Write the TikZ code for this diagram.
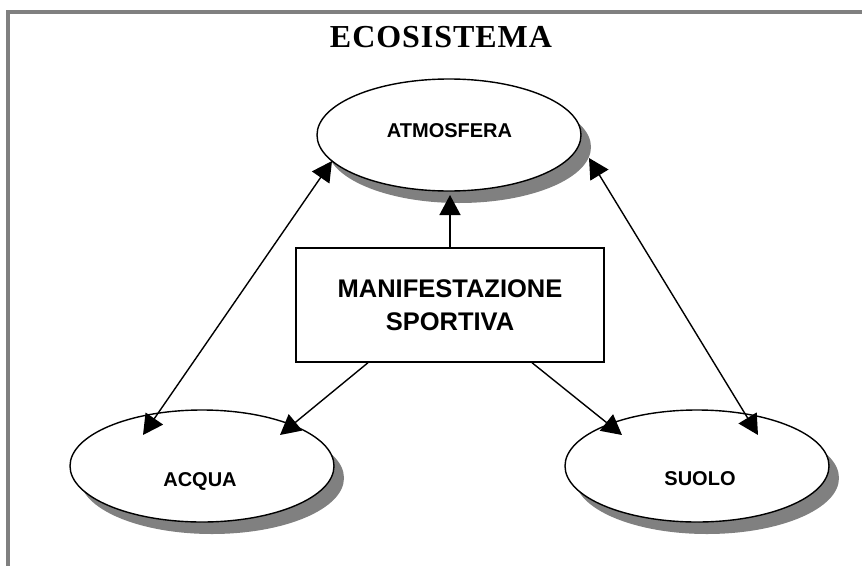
\documentclass[tikz,border=0pt]{standalone}
\usepackage{fontspec}
\setmainfont{Liberation Serif}
\newfontfamily\titlefont{Liberation Serif}[LetterSpace=3,BoldFont={* Bold}]
\newfontfamily\arialb{Liberation Sans}[BoldFont={* Bold}]
\usetikzlibrary{arrows.meta,shadows,shapes.geometric}
\definecolor{framegray}{RGB}{128,128,128}
\definecolor{shadowgray}{RGB}{128,128,128}
\tikzset{
  ell/.style={ellipse, draw=black, line width=1.4pt, fill=white, inner sep=0pt,
    minimum width=264pt, minimum height=112pt,
    drop shadow={shadow xshift=10pt, shadow yshift=-12pt, fill=shadowgray, opacity=1}},
  lab/.style={font=\arialb\bfseries\fontsize{20}{24}\selectfont, anchor=base, inner sep=0pt},
  boxnode/.style={draw=black, line width=1.4pt, fill=white, minimum width=308pt, minimum height=114pt,
    inner sep=0pt, align=center, font=\arialb\bfseries\fontsize{25.5}{33}\selectfont},
  arr/.style={line width=1.4pt, -{Triangle[length=20pt,width=21pt]}},
  dbl/.style={line width=1.4pt, {Triangle[length=20pt,width=21pt]}-{Triangle[length=20pt,width=21pt]}}
}
\begin{document}
\begin{tikzpicture}[x=1pt,y=-1pt]
\useasboundingbox (0,0) rectangle (862,565);
% frame
\draw[framegray, line width=4pt, line join=miter] (8,567) -- (8,12) -- (864,12);
% title
\node[font=\titlefont\bfseries\fontsize{32}{36}\selectfont, anchor=base, inner sep=0pt] (title) at (441,47) {ECOSISTEMA};
% ellipses
\node[ell] (atm) at (449,135) {};
\node[ell] (acq) at (202,466) {};
\node[ell] (suo) at (697,466) {};
\node[lab] (atmT) at (449.5,137) {ATMOSFERA};
\node[lab] (acqT) at (200,486) {ACQUA};
\node[lab] (suoT) at (700,485) {SUOLO};
% box
\node[boxnode] (box) at (450,305) {MANIFESTAZIONE\\SPORTIVA};
% connector end points
\coordinate (atmL) at (332,161);
\coordinate (atmR) at (589,158);
\coordinate (atmB) at (450,195);
\coordinate (acqL) at (143,435);
\coordinate (acqR) at (280,435);
\coordinate (suoL) at (622,435);
\coordinate (suoR) at (758,435);
% connectors
\draw[dbl] (atmL) -- (acqL);
\draw[dbl] (atmR) -- (suoR);
\draw[arr] (box.north) -- (atmB);
\draw[arr] ([xshift=-82pt]box.south) -- (acqR);
\draw[arr] ([xshift=82pt]box.south) -- (suoL);
\end{tikzpicture}
\end{document}
